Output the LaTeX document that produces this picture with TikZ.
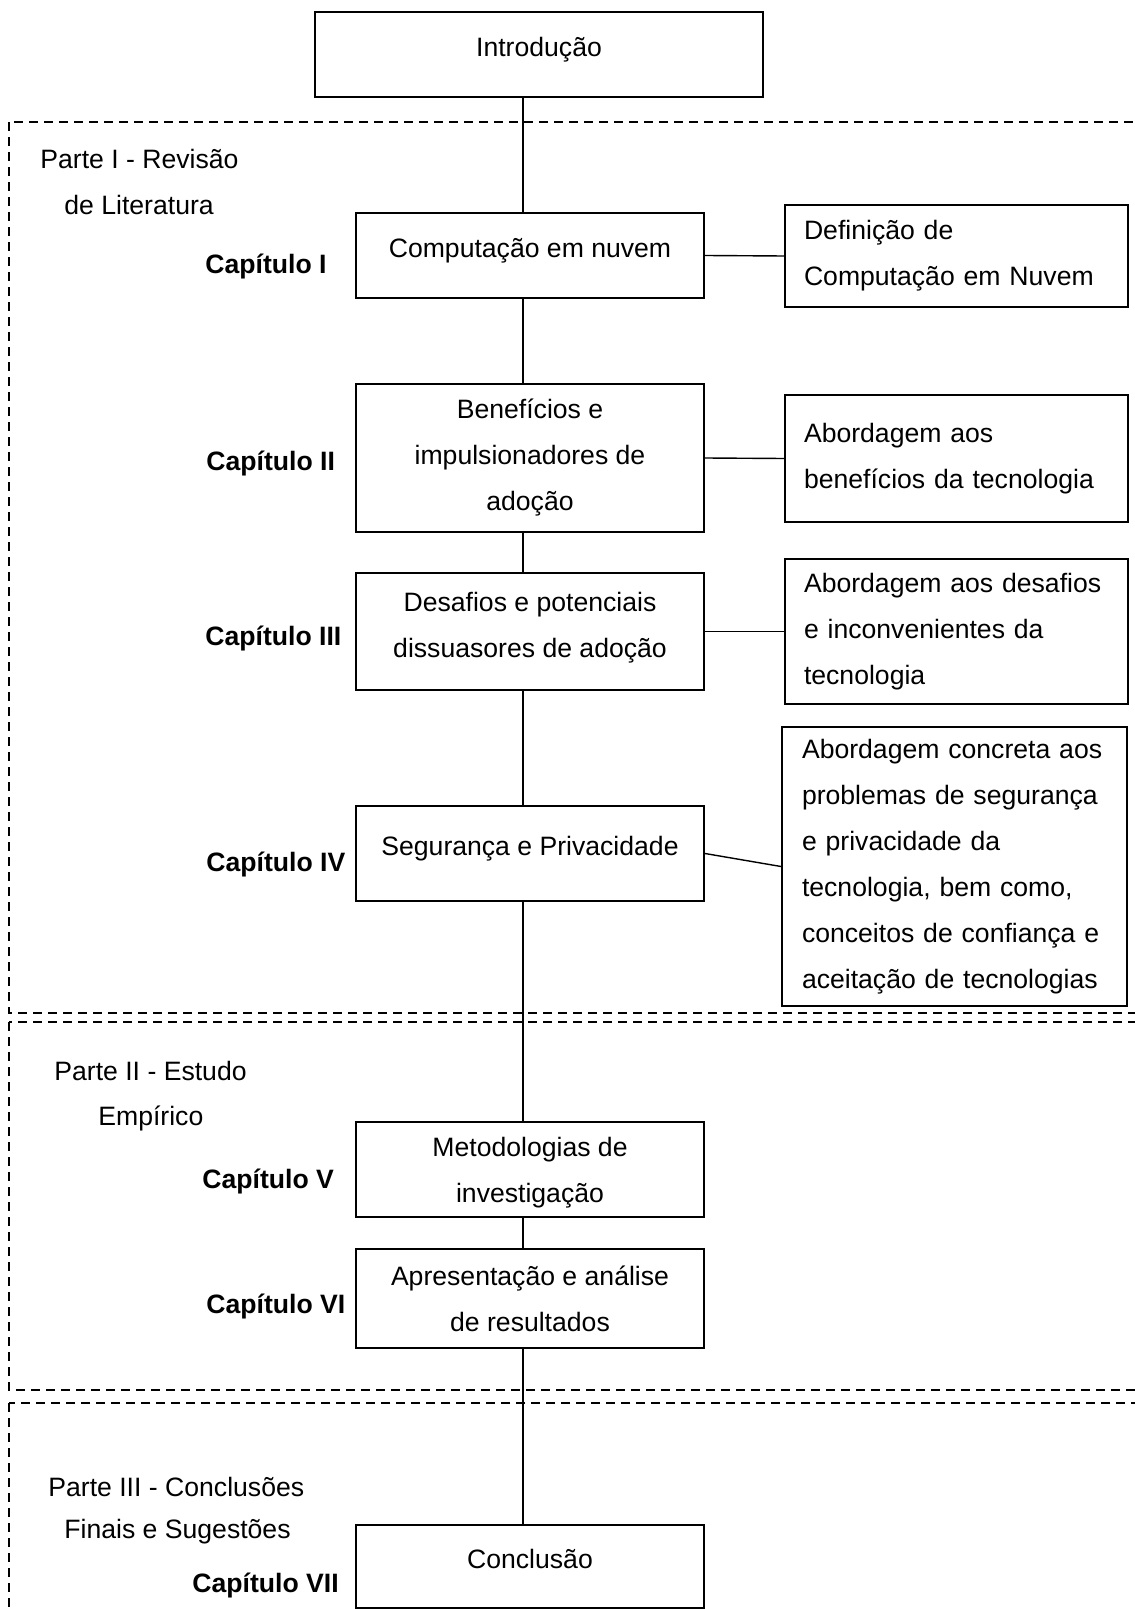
\documentclass[tikz,border=0pt]{standalone}
\usepackage{fontspec}
\setmainfont{Liberation Sans}
\usepackage{tikz}

\tikzset{
  chapbox/.style={draw, line width=1pt, minimum width=174pt, align=center, inner sep=3pt},
  infobox/.style={draw, line width=1pt, minimum width=171.5pt, text width=152.5pt, align=left, inner xsep=9.5pt},
  link/.style={line width=0.7pt},
  partframe/.style={line width=1.4pt, dash pattern=on 4.5pt off 3pt},
  partlbl/.style={anchor=west, inner sep=0pt},
  chaplbl/.style={anchor=west, inner sep=0pt, font=\fontsize{13.3}{23}\selectfont\bfseries}
}

\begin{document}
\begin{tikzpicture}[x=0.5pt, y=-0.5pt, font=\fontsize{13.3}{23}\selectfont]
\useasboundingbox (0,0) rectangle (1134,1609);
\coordinate (spine) at (523,0);

% parts
\draw [partframe] (9,122) rectangle (1150,1013);
\draw [partframe] (9,1022) rectangle (1150,1390);
\draw [partframe] (9,1403) rectangle (1150,1630);

\node[partlbl] (p1a) at (40,159) {Parte I - Revisão};
\node[partlbl] (p1b) at (64,205) {de Literatura};
\node[partlbl] (p2a) at (54,1071) {Parte II - Estudo};
\node[partlbl] (p2b) at (98,1118) {Empírico};
\node[partlbl] (p3a) at (48,1487) {Parte III - Conclusões};
\node[partlbl] (p3b) at (64,1532) {Finais e Sugestões};

% main column
\node[chapbox, minimum width=224pt, minimum height=42.5pt, text depth=8pt] (intro) at (539,54.5) {Introdução};
\node[chapbox, minimum height=42.5pt, text depth=8pt] (comp) at (530,255.5) {Computação em nuvem};
\node[chapbox, minimum height=74pt] (benef) at (530,458) {Benefícios e\\impulsionadores de\\adoção};
\node[chapbox, minimum height=58.5pt, text depth=6.8pt] (desaf) at (530,631.5) {Desafios e potenciais\\dissuasores de adoção};
\node[chapbox, minimum height=47.5pt, text depth=8pt] (seg) at (530,853.5) {Segurança e Privacidade};
\node[chapbox, minimum height=47.5pt, text depth=0pt] (metod) at (530,1169.5) {Metodologias de\\investigação};
\node[chapbox, minimum height=49.5pt] (apres) at (530,1298.5) {Apresentação e análise\\de resultados};
\node[chapbox, minimum height=41.5pt, text depth=8pt] (concl) at (530,1566.5) {Conclusão};

\node[chaplbl] (c1) at (205,267) {Capítulo I};
\node[chaplbl] (c2) at (206,464) {Capítulo II};
\node[chaplbl] (c3) at (205,639) {Capítulo III};
\node[chaplbl] (c4) at (206,864) {Capítulo IV};
\node[chaplbl] (c5) at (202,1181) {Capítulo V};
\node[chaplbl] (c6) at (206,1306) {Capítulo VI};
\node[chaplbl] (c7) at (192,1585) {Capítulo VII};

% side notes
\node[infobox, minimum height=51pt] (def) at (956.5,256) {Definição de\\Computação em Nuvem};
\node[infobox, minimum height=63.5pt] (benr) at (956.5,458.5) {Abordagem aos\\benefícios da tecnologia};
\node[infobox, minimum height=72.5pt] (desr) at (956.5,631.5) {Abordagem aos desafios\\e inconvenientes da\\tecnologia};
\node[infobox, minimum width=172.5pt, minimum height=139.5pt] (segr) at (954.5,866.5) {Abordagem concreta aos\\problemas de segurança\\e privacidade da\\tecnologia, bem como,\\conceitos de confiança e\\aceitação de tecnologias};

\draw [link] (intro.south -| spine) -- (comp.north -| spine);
\draw [link] (comp.south -| spine) -- (benef.north -| spine);
\draw [link] (benef.south -| spine) -- (desaf.north -| spine);
\draw [link] (desaf.south -| spine) -- (seg.north -| spine);
\draw [link] (seg.south -| spine) -- (metod.north -| spine);
\draw [link] (metod.south -| spine) -- (apres.north -| spine);
\draw [link] (apres.south -| spine) -- (concl.north -| spine);

\draw [link] (comp.east) -- (def.west);
\draw [link] (benef.east) -- (benr.west);
\draw [link] (desaf.east) -- (desr.west);
\draw [link] (seg.east) -- (segr.west);
\end{tikzpicture}
\end{document}
